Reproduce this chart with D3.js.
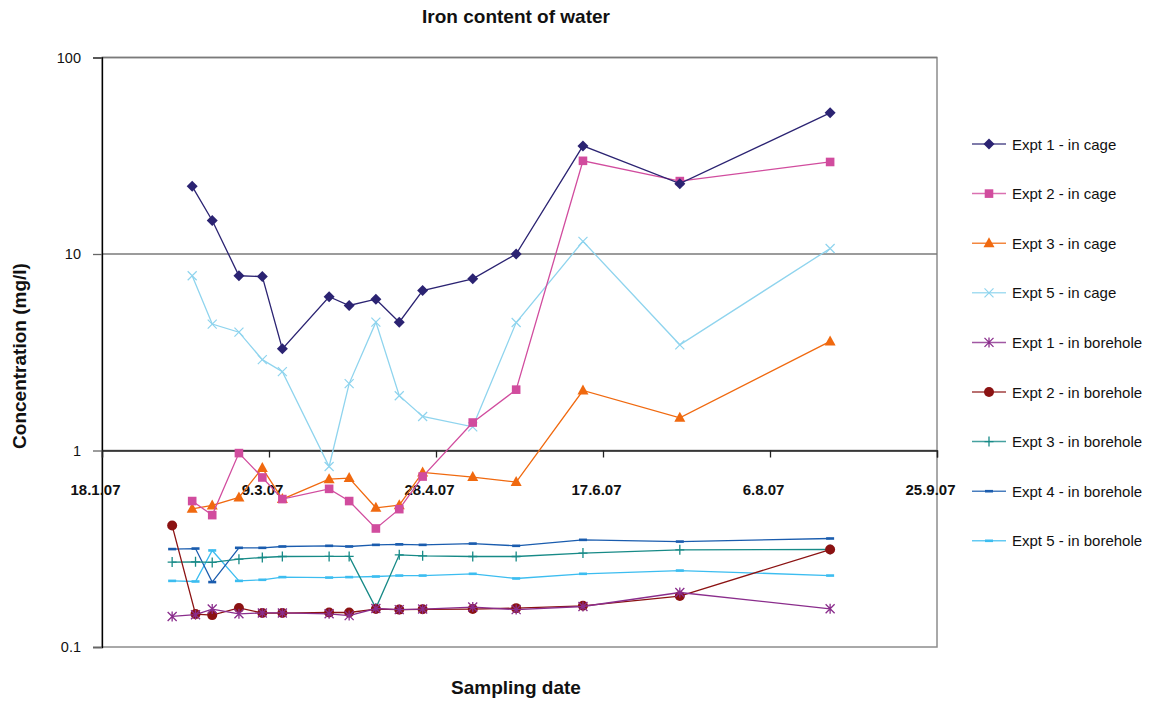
<!DOCTYPE html>
<html>
<head>
<meta charset="utf-8">
<script src="https://cdn.jsdelivr.net/npm/d3@7"></script>
<style>
html,body{margin:0;padding:0;background:#fff;}
svg{display:block;font-family:"Liberation Sans",Arial,sans-serif;}
</style>
</head>
<body>
<svg id="chart" width="1154" height="704"></svg>
<script>
// ---- data ----
const cageDates = ["2007-02-14","2007-02-20","2007-02-28","2007-03-07","2007-03-13","2007-03-27","2007-04-02","2007-04-10","2007-04-17","2007-04-24","2007-05-09","2007-05-22","2007-06-11","2007-07-10","2007-08-24"];
const boreDates = ["2007-02-08","2007-02-15","2007-02-20","2007-02-28","2007-03-07","2007-03-13","2007-03-27","2007-04-02","2007-04-10","2007-04-17","2007-04-24","2007-05-09","2007-05-22","2007-06-11","2007-07-10","2007-08-24"];

const expt1Cage = [22.1,14.8,7.75,7.68,3.29,6.06,5.47,5.89,4.50,6.52,7.48,10.0,35.5,22.8,52.3];
const expt2Cage = [0.553,0.469,0.970,0.729,0.566,0.638,0.553,0.401,0.503,0.737,1.388,2.04,29.8,23.5,29.4];
const expt3Cage = [0.505,0.525,0.577,0.814,0.566,0.715,0.724,0.511,0.527,0.773,0.732,0.691,2.02,1.467,3.59];
const expt5Cage = [7.75,4.40,4.00,2.90,2.52,0.829,2.19,4.50,1.90,1.49,1.32,4.48,11.6,3.45,10.67];

const expt1Bore = [0.143,0.146,0.156,0.1476,0.149,0.149,0.1476,0.1445,0.157,0.155,0.156,0.1597,0.155,0.1607,0.1894,0.1565];
const expt2Bore = [0.415,0.147,0.1453,0.158,0.1488,0.1488,0.1498,0.1498,0.156,0.155,0.1555,0.156,0.1577,0.162,0.1816,0.3134];
const expt3Bore = [0.2704,0.2713,0.2694,0.280,0.2854,0.2888,0.289,0.289,0.1577,0.2945,0.291,0.2888,0.2888,0.3005,0.3124,0.3134];
const expt4Bore = [0.315,0.317,0.214,0.3197,0.3197,0.3247,0.3273,0.3247,0.331,0.333,0.331,0.336,0.3273,0.351,0.344,0.3566];
const expt5Bore = [0.217,0.2155,0.31,0.217,0.2198,0.2268,0.2256,0.2268,0.2284,0.231,0.231,0.2358,0.2232,0.2358,0.245,0.231];

const seriesNames = ["Expt 1 - in cage","Expt 2 - in cage","Expt 3 - in cage","Expt 5 - in cage","Expt 1 - in borehole","Expt 2 - in borehole","Expt 3 - in borehole","Expt 4 - in borehole","Expt 5 - in borehole"];
const seriesValues = [expt1Cage,expt2Cage,expt3Cage,expt5Cage,expt1Bore,expt2Bore,expt3Bore,expt4Bore,expt5Bore];
const seriesDates = [cageDates,cageDates,cageDates,cageDates,boreDates,boreDates,boreDates,boreDates,boreDates];
const seriesColors = ["#2b2372","#d14c9e","#f0690f","#8fd4ee","#8a2d8c","#8b1212","#178a87","#1a5cae","#3cbdf0"];
const seriesMarkers = ["diamond","square","triangle","x","asterisk","circle","plus","dash","dash"];

const xTickDates = ["2007-01-18","2007-03-09","2007-04-28","2007-06-17","2007-08-06","2007-09-25"];
const xTickLabels = ["18.1.07","9.3.07","28.4.07","17.6.07","6.8.07","25.9.07"];
const yTickValues = [0.1,1,10,100];
const yTickLabels = ["0.1","1","10","100"];

// ---- layout ----
const L = 102, R = 937, T = 57.5, B = 647;
const svg = d3.select("#chart");
const parse = d3.utcParse("%Y-%m-%d");

const x = d3.scaleUtc().domain([parse(xTickDates[0]), parse(xTickDates[xTickDates.length-1])]).range([L, R]);
const y = d3.scaleLog().domain([0.1, 100]).range([B, T]);

// plot border (grey)
svg.append("rect").attr("x", L).attr("y", T).attr("width", R - L).attr("height", B - T)
  .attr("fill", "none").attr("stroke", "#8c8c8c").attr("stroke-width", 1.5);

// gridlines
svg.append("g").selectAll("line").data(yTickValues.filter(v => v > 0.1))
  .join("line")
  .attr("x1", L).attr("x2", R)
  .attr("y1", d => y(d)).attr("y2", d => y(d))
  .attr("stroke", "#7a7a7a").attr("stroke-width", 1.5);

// y axis
const yAxis = d3.axisLeft(y).tickValues(yTickValues).tickFormat((d, i) => yTickLabels[i]).tickSize(9).tickPadding(12);
const gy = svg.append("g").attr("transform", `translate(${L},0)`).call(yAxis);
gy.select(".domain").attr("stroke", "#000").attr("stroke-width", 1.3);
gy.selectAll(".tick line").attr("stroke", "#666").attr("stroke-width", 1.3);
gy.selectAll(".tick text").attr("font-size", "14.5px").attr("fill", "#111").attr("font-family", "Liberation Sans, Arial, sans-serif");

// x axis crossing at y=1
const xAxis = d3.axisBottom(x).tickValues(xTickDates.map(parse)).tickFormat((d, i) => xTickLabels[i]).tickSize(7).tickPadding(0);
const gx = svg.append("g").attr("transform", `translate(0,${y(1)})`).call(xAxis);
gx.select(".domain").attr("stroke", "#222").attr("stroke-width", 1.3);
gx.selectAll(".tick line").attr("stroke", "#222").attr("stroke-width", 1.3);
gx.selectAll(".tick text").attr("font-size", "15px").attr("font-weight", "bold").attr("fill", "#111")
  .attr("font-family", "Liberation Sans, Arial, sans-serif")
  .attr("dy", null).attr("y", 44).attr("x", -7);

// markers
function drawMarker(g, type, color) {
  switch (type) {
    case "diamond":
      g.append("path").attr("d", "M0,-5.5L5.5,0L0,5.5L-5.5,0Z").attr("fill", color); break;
    case "square":
      g.append("rect").attr("x", -4.3).attr("y", -4.3).attr("width", 8.6).attr("height", 8.6).attr("fill", color); break;
    case "triangle":
      g.append("path").attr("d", "M0,-6L5.5,4L-5.5,4Z").attr("fill", color); break;
    case "circle":
      g.append("circle").attr("r", 5).attr("fill", color); break;
    case "x":
      g.append("path").attr("d", "M-4.5,-4.5L4.5,4.5M-4.5,4.5L4.5,-4.5").attr("stroke", color).attr("stroke-width", 1.2).attr("fill", "none"); break;
    case "asterisk":
      g.append("path").attr("d", "M-4.5,-4.5L4.5,4.5M-4.5,4.5L4.5,-4.5M0,-5L0,5").attr("stroke", color).attr("stroke-width", 1.3).attr("fill", "none"); break;
    case "plus":
      g.append("path").attr("d", "M-4.5,0L4.5,0M0,-5L0,5").attr("stroke", color).attr("stroke-width", 1.3).attr("fill", "none"); break;
    case "dash":
      g.append("path").attr("d", "M-4,0L4,0").attr("stroke", color).attr("stroke-width", 2.6).attr("fill", "none"); break;
  }
}

const line = d3.line().x(d => x(d.date)).y(d => y(d.value));
const plot = svg.append("g");
// draw in reverse order so first series is on top
for (let s = seriesNames.length - 1; s >= 0; s--) {
  const pts = seriesValues[s].map((v, i) => ({ date: parse(seriesDates[s][i]), value: v }));
  const g = plot.append("g");
  g.append("path").datum(pts).attr("d", line).attr("fill", "none")
    .attr("stroke", seriesColors[s]).attr("stroke-width", 1.3);
  g.selectAll("g.m").data(pts).join("g").attr("class", "m")
    .attr("transform", d => `translate(${x(d.date)},${y(d.value)})`)
    .each(function () { drawMarker(d3.select(this), seriesMarkers[s], seriesColors[s]); });
}

// legend
const leg = svg.append("g");
seriesNames.forEach((name, i) => {
  const ly = 144 + i * 49.6;
  const g = leg.append("g").attr("transform", `translate(0,${ly})`);
  g.append("line").attr("x1", 972).attr("x2", 1006).attr("y1", 0).attr("y2", 0)
    .attr("stroke", seriesColors[i]).attr("stroke-width", 1.5).attr("stroke-opacity", 0.8);
  const mg = g.append("g").attr("transform", "translate(989,0)");
  drawMarker(mg, seriesMarkers[i], seriesColors[i]);
  g.append("text").attr("x", 1012).attr("y", 5.5).attr("font-size", "15px").attr("fill", "#111").text(name);
});

// titles
svg.append("text").attr("x", 516).attr("y", 23).attr("text-anchor", "middle")
  .attr("font-size", "19px").attr("font-weight", "bold").attr("fill", "#111").text("Iron content of water");
svg.append("text").attr("x", 516).attr("y", 694).attr("text-anchor", "middle")
  .attr("font-size", "19px").attr("font-weight", "bold").attr("fill", "#111").text("Sampling date");
svg.append("text").attr("transform", "translate(26,356) rotate(-90)").attr("text-anchor", "middle")
  .attr("font-size", "19px").attr("font-weight", "bold").attr("fill", "#111").text("Concentration (mg/l)");
</script>
</body>
</html>
